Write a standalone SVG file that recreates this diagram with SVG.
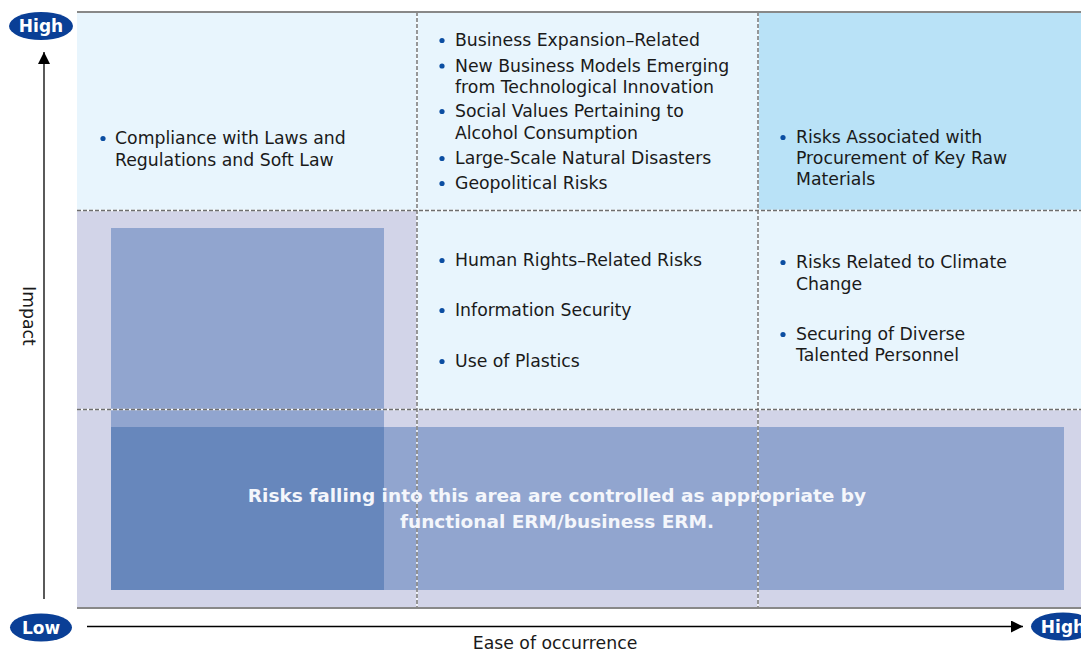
<svg xmlns="http://www.w3.org/2000/svg" width="1081" height="651" viewBox="0 0 1081 651">
<style>
.t{font-family:"DejaVu Sans",Verdana,sans-serif;font-size:17.3px;fill:#1a1a1a}
.b{fill:#0b4ea2}
.lab{font-family:"DejaVu Sans",Verdana,sans-serif;font-size:17px;font-weight:bold;fill:#fff;text-anchor:middle}
.ov{font-family:"DejaVu Sans",Verdana,sans-serif;font-size:18.5px;font-weight:bold;fill:#f4f6fb;text-anchor:middle}
.pill{fill:#0a3f96}
.under{stroke:#fff;stroke-width:1.4;fill:none}
.dash{stroke:#6e6e6e;stroke-width:1.4;stroke-dasharray:4 2;fill:none}
.axis{stroke:#000;stroke-width:1.3;fill:none}
</style>
<defs>
<marker id="ah" viewBox="0 0 10 10" refX="10" refY="5" markerWidth="16" markerHeight="12" markerUnits="userSpaceOnUse" orient="auto">
<path d="M0,0 L10,5 L0,10 z" fill="#000"/>
</marker>
</defs>
<rect width="1081" height="651" fill="#fff"/>
<g id="cells">
<rect x="77" y="12" width="340" height="198.5" fill="#e8f5fd"/>
<rect x="417" y="12" width="341" height="198.5" fill="#e8f5fd"/>
<rect x="758" y="12" width="323" height="198.5" fill="#b9e2f7"/>
<rect x="77" y="210.5" width="340" height="199" fill="#d2d4e8"/>
<rect x="417" y="210.5" width="341" height="199" fill="#e8f5fd"/>
<rect x="758" y="210.5" width="323" height="199" fill="#e8f5fd"/>
<rect x="77" y="409.5" width="1004" height="198.5" fill="#d2d4e8"/>
</g>
<g id="overlay">
<rect x="111" y="228" width="273" height="199" fill="#91a5cf"/>
<rect x="111" y="427" width="953" height="163" fill="#91a5cf"/>
<rect x="111" y="427" width="273" height="163" fill="#6787bc"/>
</g>
<g id="gridlines">
<line class="under" x1="417" y1="12" x2="417" y2="608"/>
<line class="under" x1="758" y1="12" x2="758" y2="608"/>
<line class="under" x1="77" y1="210.5" x2="1081" y2="210.5"/>
<line class="under" x1="77" y1="409.5" x2="1081" y2="409.5"/>
<line class="dash" x1="417" y1="12" x2="417" y2="608"/>
<line class="dash" x1="758" y1="12" x2="758" y2="608"/>
<line class="dash" x1="77" y1="210.5" x2="1081" y2="210.5"/>
<line class="dash" x1="77" y1="409.5" x2="1081" y2="409.5"/>
<line x1="77" y1="12" x2="1081" y2="12" stroke="#888" stroke-width="2"/>
<line x1="77" y1="608" x2="1081" y2="608" stroke="#888" stroke-width="2"/>
</g>
<g id="cell-high-low">
<circle class="b" cx="103" cy="138.5" r="2.6"/>
<text class="t" x="115" y="144">Compliance with Laws and</text>
<text class="t" x="115" y="165.5">Regulations and Soft Law</text>
</g>
<g id="cell-high-mid">
<circle class="b" cx="442" cy="40.5" r="2.6"/>
<text class="t" x="455" y="46">Business Expansion–Related</text>
<circle class="b" cx="442" cy="66" r="2.6"/>
<text class="t" x="455" y="71.5">New Business Models Emerging</text>
<text class="t" x="455" y="92.5">from Technological Innovation</text>
<circle class="b" cx="442" cy="111.5" r="2.6"/>
<text class="t" x="455" y="117">Social Values Pertaining to</text>
<text class="t" x="455" y="138.5">Alcohol Consumption</text>
<circle class="b" cx="442" cy="158.5" r="2.6"/>
<text class="t" x="455" y="164">Large-Scale Natural Disasters</text>
<circle class="b" cx="442" cy="183.5" r="2.6"/>
<text class="t" x="455" y="189">Geopolitical Risks</text>
</g>
<g id="cell-high-high">
<circle class="b" cx="783" cy="137.5" r="2.6"/>
<text class="t" x="796" y="143">Risks Associated with</text>
<text class="t" x="796" y="164">Procurement of Key Raw</text>
<text class="t" x="796" y="185">Materials</text>
</g>
<g id="cell-mid-mid">
<circle class="b" cx="442" cy="260.5" r="2.6"/>
<text class="t" x="455" y="266">Human Rights–Related Risks</text>
<circle class="b" cx="442" cy="310.5" r="2.6"/>
<text class="t" x="455" y="316">Information Security</text>
<circle class="b" cx="442" cy="361.5" r="2.6"/>
<text class="t" x="455" y="367">Use of Plastics</text>
</g>
<g id="cell-mid-high">
<circle class="b" cx="783" cy="262.5" r="2.6"/>
<text class="t" x="796" y="268">Risks Related to Climate</text>
<text class="t" x="796" y="289.5">Change</text>
<circle class="b" cx="783" cy="334.5" r="2.6"/>
<text class="t" x="796" y="340">Securing of Diverse</text>
<text class="t" x="796" y="361">Talented Personnel</text>
</g>
<g id="overlay-text">
<text class="ov" x="557" y="501.5">Risks falling into this area are controlled as appropriate by</text>
<text class="ov" x="557" y="528">functional ERM/business ERM.</text>
</g>
<g id="connectors">
<line class="axis" x1="44" y1="599" x2="44" y2="52" marker-end="url(#ah)"/>
<line class="axis" x1="87" y1="626.5" x2="1023" y2="626.5" marker-end="url(#ah)"/>
</g>
<g id="label-impact">
<text class="t" transform="translate(23,316) rotate(90)" text-anchor="middle">Impact</text>
</g>
<g id="label-ease">
<text class="t" x="555" y="649" text-anchor="middle">Ease of occurrence</text>
</g>
<g id="pill-high-y">
<ellipse class="pill" cx="41" cy="26" rx="32" ry="14"/>
<text class="lab" x="41" y="32">High</text>
</g>
<g id="pill-low">
<ellipse class="pill" cx="41" cy="627.5" rx="31" ry="14"/>
<text class="lab" x="41" y="633.5">Low</text>
</g>
<g id="pill-high-x">
<ellipse class="pill" cx="1063" cy="626.5" rx="32" ry="14"/>
<text class="lab" x="1063" y="632.5">High</text>
</g>
</svg>
